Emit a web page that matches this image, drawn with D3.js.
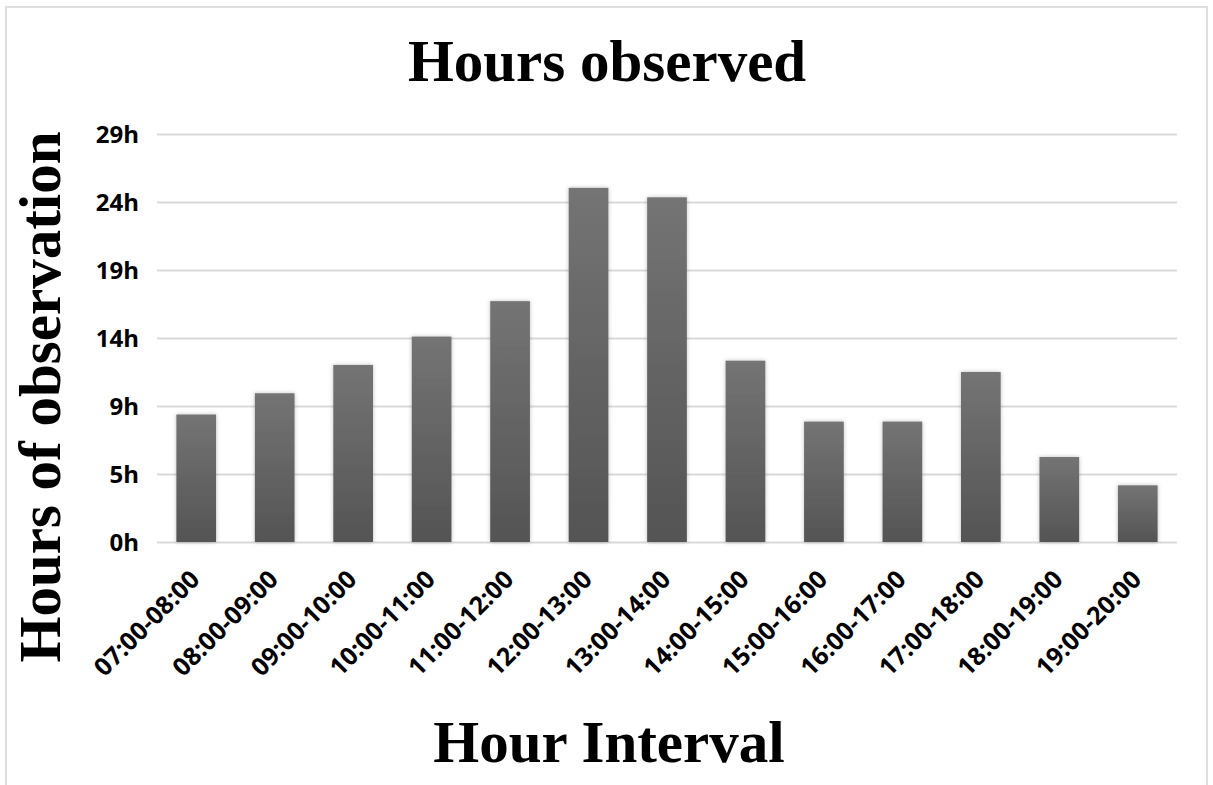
<!DOCTYPE html>
<html>
<head>
<meta charset="utf-8">
<script src="https://cdn.jsdelivr.net/npm/d3@7"></script>
<style>
  html, body { margin: 0; padding: 0; background: #fff; }
  svg { display: block; }
</style>
</head>
<body>
<svg id="chart" width="1213" height="785"></svg>
<script>
// Hour intervals on the x axis
const intervals = [
  "07:00-08:00", "08:00-09:00", "09:00-10:00", "10:00-11:00", "11:00-12:00",
  "12:00-13:00", "13:00-14:00", "14:00-15:00", "15:00-16:00", "16:00-17:00",
  "17:00-18:00", "18:00-19:00", "19:00-20:00"
];
// Hours of observation per interval
const hoursObserved = [9, 10.5, 12.5, 14.5, 17, 25, 24.33, 12.8, 8.5, 8.5, 12, 6, 4];
// Axis ticks: major unit of 4.8 h, labelled in whole hours
const tickValues = [0, 4.8, 9.6, 14.4, 19.2, 24, 28.8];
const tickLabels = ["0h", "5h", "9h", "14h", "19h", "24h", "29h"];

const svg = d3.select("#chart");
const W = 1213, H = 785;
const plot = { left: 157, right: 1177, top: 134, bottom: 542 };

const serif = "'Liberation Serif', 'Times New Roman', serif";
const sans = "'Open Sans', 'Liberation Sans', Arial, sans-serif";

// Outer frame
svg.append("rect")
  .attr("x", 6).attr("y", 7).attr("width", W - 12).attr("height", H - 6)
  .attr("fill", "#fff").attr("stroke", "#dedede").attr("stroke-width", 2);

const defs = svg.append("defs");
const grad = defs.append("linearGradient")
  .attr("id", "barFill").attr("x1", 0).attr("y1", 0).attr("x2", 0).attr("y2", 1);
grad.append("stop").attr("offset", "0%").attr("stop-color", "#747474");
grad.append("stop").attr("offset", "100%").attr("stop-color", "#545454");

const shadow = defs.append("filter").attr("id", "barShadow")
  .attr("x", "-30%").attr("y", "-10%").attr("width", "160%").attr("height", "120%");
shadow.append("feDropShadow")
  .attr("dx", 0).attr("dy", 0).attr("stdDeviation", 2)
  .attr("flood-color", "#000").attr("flood-opacity", 0.25);

const x = d3.scaleBand()
  .domain(intervals)
  .range([plot.left, plot.right])
  .paddingInner(0.494).paddingOuter(0.247);

const y = d3.scaleLinear()
  .domain([0, 28.8])
  .range([plot.bottom, plot.top]);

// Horizontal gridlines
const yAxis = d3.axisLeft(y)
  .tickValues(tickValues)
  .tickFormat((d, i) => tickLabels[i])
  .tickSize(-(plot.right - plot.left))
  .tickPadding(18);

const gy = svg.append("g")
  .attr("transform", `translate(${plot.left},0)`)
  .call(yAxis);
gy.select(".domain").remove();
gy.selectAll(".tick line").attr("stroke", "#d9d9d9").attr("stroke-width", 2);
gy.selectAll(".tick text")
  .attr("font-family", sans).attr("font-weight", 700)
  .attr("font-size", 24).attr("fill", "#000")
  .attr("dy", "0.36em");

// Bars
svg.append("g").selectAll("rect")
  .data(hoursObserved)
  .join("rect")
  .attr("x", (d, i) => x(intervals[i]))
  .attr("y", d => y(d))
  .attr("width", x.bandwidth())
  .attr("height", d => y(0) - y(d))
  .attr("fill", "url(#barFill)")
  .attr("filter", "url(#barShadow)");

// Category axis with rotated labels
const xAxis = d3.axisBottom(x).tickSize(0).tickPadding(0);
const gx = svg.append("g")
  .attr("transform", `translate(0,${plot.bottom})`)
  .call(xAxis);
gx.select(".domain").remove();
gx.selectAll(".tick text")
  .attr("font-family", sans).attr("font-weight", 700)
  .attr("font-size", 25).attr("fill", "#000")
  .attr("text-anchor", "end")
  .attr("dy", 0)
  .attr("transform", "translate(5,39) rotate(-45)");

// Titles
svg.append("text")
  .attr("x", 607).attr("y", 81)
  .attr("text-anchor", "middle")
  .attr("font-family", serif).attr("font-weight", 700).attr("font-size", 59)
  .text("Hours observed");

svg.append("text")
  .attr("x", 609).attr("y", 762)
  .attr("text-anchor", "middle")
  .attr("font-family", serif).attr("font-weight", 700).attr("font-size", 59)
  .text("Hour Interval");

svg.append("text")
  .attr("transform", "translate(60,397) rotate(-90)")
  .attr("text-anchor", "middle")
  .attr("font-family", serif).attr("font-weight", 700).attr("font-size", 59)
  .text("Hours of observation");
</script>
</body>
</html>
